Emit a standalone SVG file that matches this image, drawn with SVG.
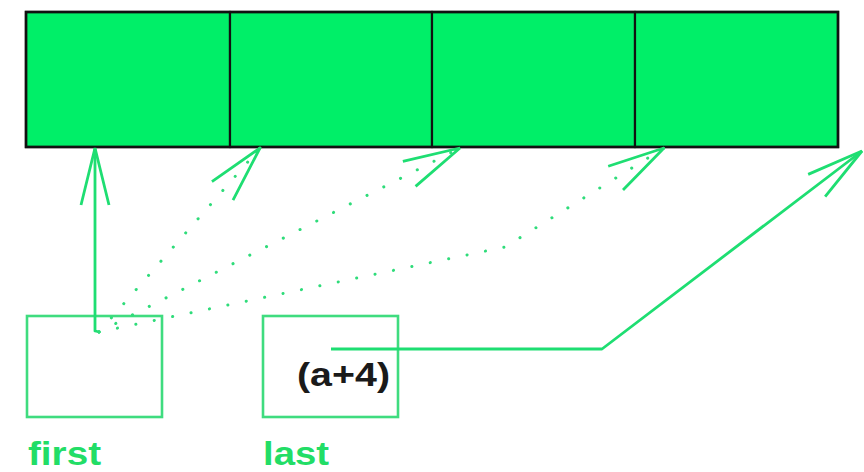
<svg xmlns="http://www.w3.org/2000/svg" width="864" height="472" viewBox="0 0 864 472">
  <style>
    .cell { fill: #00EF68; stroke: #111; stroke-width: 2.2; }
    .frame { fill: none; stroke: #111; stroke-width: 2.6; }
    .box { fill: #fff; stroke: #3FDC7F; stroke-width: 2.6; }
    .link { fill: none; stroke: #1EDE72; stroke-width: 2.8; stroke-linejoin: round; }
    .dots { fill: none; stroke: #2FDC7A; stroke-width: 3; stroke-linecap: round; stroke-dasharray: 0.1 18.7; }
    .label { font-family: "Liberation Sans", Arial, sans-serif; font-weight: bold; font-size: 33px; }
  </style>
  <defs>
    <marker id="head" markerUnits="userSpaceOnUse" markerWidth="80" markerHeight="40" refX="0" refY="0" orient="auto" overflow="visible">
      <path d="M-57,-14 L0,0 L-57,14" fill="none" stroke="#1EDE72" stroke-width="2.8" stroke-linejoin="miter"/>
    </marker>
  </defs>
  <rect width="864" height="472" fill="#fff"/>

  <!-- array of four cells -->
  <g id="array">
    <rect class="cell" x="26" y="12" width="204" height="135"/>
    <rect class="cell" x="230" y="12" width="202" height="135"/>
    <rect class="cell" x="432" y="12" width="203" height="135"/>
    <rect class="cell" x="635" y="12" width="203" height="135"/>
    <rect class="frame" x="26" y="12" width="812" height="135"/>
  </g>

  <!-- pointer boxes -->
  <g id="first">
    <rect class="box" x="27" y="316" width="135" height="101"/>
    <text class="label" x="28" y="465" fill="#22DD66" textLength="73" lengthAdjust="spacingAndGlyphs">first</text>
  </g>
  <g id="last">
    <rect class="box" x="263" y="316" width="135" height="101"/>
    <text class="label" x="297" y="386" fill="#1a1a1a" textLength="93" lengthAdjust="spacingAndGlyphs">(a+4)</text>
    <text class="label" x="263" y="465" fill="#22DD66" textLength="66" lengthAdjust="spacingAndGlyphs">last</text>
  </g>

  <!-- connectors -->
  <g id="connectors">
    <path class="link" d="M100,332 L95,331 L95,148" marker-end="url(#head)"/>
    <path class="dots" d="M99,332 L260,148" marker-end="url(#head)"/>
    <path class="dots" d="M99,332 L460,148" marker-end="url(#head)"/>
    <path class="dots" d="M99,332 L505,247 L664,148" marker-end="url(#head)"/>
    <path class="link" d="M331,349 L602,349 L862,151" marker-end="url(#head)"/>
  </g>
</svg>
